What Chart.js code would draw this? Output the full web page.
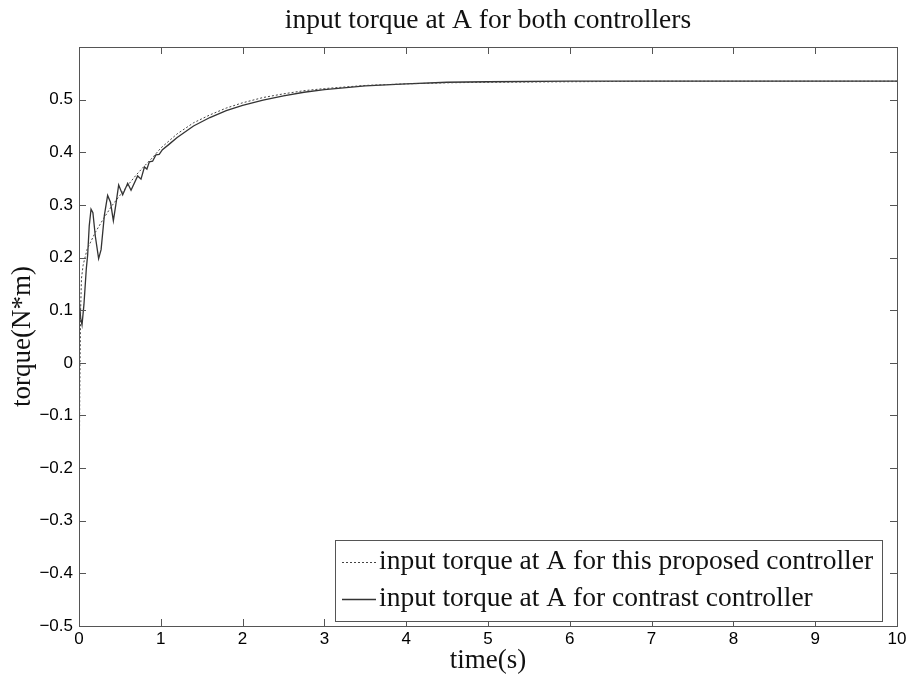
<!DOCTYPE html>
<html>
<head>
<meta charset="utf-8">
<title>input torque at A for both controllers</title>
<script src="https://cdn.jsdelivr.net/npm/chart.js@4.4.1/dist/chart.umd.min.js"></script>
<style>
  html, body { margin: 0; padding: 0; background: #fff; }
  #wrap { width: 909px; height: 679px; position: relative; }
</style>
</head>
<body>
<div id="wrap"><canvas id="torqueChart"></canvas></div>
<script>
// Datos
const X_TICKS = [0, 1, 2, 3, 4, 5, 6, 7, 8, 9, 10];
const Y_TICKS = [-0.5, -0.4, -0.3, -0.2, -0.1, 0, 0.1, 0.2, 0.3, 0.4, 0.5];

// controlador propuesto (linea punteada)
const proposedTime = [0, 0.01, 0.02, 0.03, 0.05, 0.07, 0.1, 0.2, 0.3, 0.4, 0.5, 0.6, 0.7, 0.8, 0.9, 1.0,
  1.2, 1.4, 1.6, 1.8, 2.0, 2.25, 2.5, 2.75, 3.0, 3.5, 4.0, 4.5, 5.0, 6.0, 7.0, 8.0, 9.0, 10.0];
const proposedTorque = [-0.28, -0.05, 0.1, 0.16, 0.185, 0.198, 0.216, 0.248, 0.274, 0.298, 0.318, 0.338, 0.357, 0.374, 0.39, 0.408,
  0.435, 0.456, 0.471, 0.484, 0.494, 0.504, 0.511, 0.517, 0.521, 0.527, 0.530, 0.532, 0.533, 0.534, 0.535, 0.535, 0.535, 0.535];

// controlador de contraste (linea continua)
const contrastTime = [0, 0.02, 0.037, 0.06, 0.09, 0.106, 0.125, 0.147, 0.17, 0.2, 0.24, 0.27, 0.31, 0.35, 0.385, 0.42,
  0.45, 0.485, 0.534, 0.595, 0.636, 0.717, 0.758, 0.8, 0.83, 0.86, 0.9, 0.94, 0.98, 1.02, 1.1, 1.2, 1.4, 1.6, 1.8, 2.0,
  2.25, 2.5, 2.75, 3.0, 3.5, 4.0, 4.5, 5.0, 6.0, 7.0, 8.0, 9.0, 10.0];
const contrastTorque = [0.125, 0.085, 0.072, 0.11, 0.18, 0.205, 0.26, 0.292, 0.285, 0.24, 0.198, 0.215, 0.28, 0.318, 0.305, 0.27,
  0.3, 0.338, 0.319, 0.341, 0.328, 0.355, 0.349, 0.372, 0.368, 0.382, 0.383, 0.395, 0.396, 0.405, 0.415, 0.428, 0.450, 0.466, 0.479, 0.489,
  0.499, 0.507, 0.514, 0.519, 0.526, 0.530, 0.533, 0.534, 0.535, 0.535, 0.535, 0.535, 0.535];

const seriesLabels = ['input torque at A for this proposed controller', 'input torque at A for contrast controller'];

function toPoints(xs, ys) {
  return xs.map(function(x, i) { return { x: x, y: ys[i] }; });
}

const SERIF = '"Liberation Serif", "Times New Roman", serif';
const SANS = '"Liberation Sans", Arial, sans-serif';

// caja y marcas hacia adentro (estilo matlab)
const boxPlugin = {
  id: 'boxPlugin',
  afterDatasetsDraw: function(chart) {
    const ctx = chart.ctx;
    const a = chart.chartArea;
    const xs = chart.scales.x;
    const ys = chart.scales.y;
    const tl = 7;
    ctx.save();
    ctx.strokeStyle = '#555';
    ctx.lineWidth = 1;
    ctx.beginPath();
    X_TICKS.forEach(function(v) {
      const px = Math.round(xs.getPixelForValue(v)) + 0.5;
      ctx.moveTo(px, a.bottom); ctx.lineTo(px, a.bottom - tl);
      ctx.moveTo(px, a.top); ctx.lineTo(px, a.top + tl);
    });
    Y_TICKS.forEach(function(v) {
      const py = Math.round(ys.getPixelForValue(v)) + 0.5;
      ctx.moveTo(a.left, py); ctx.lineTo(a.left + tl, py);
      ctx.moveTo(a.right, py); ctx.lineTo(a.right - tl, py);
    });
    ctx.stroke();
    ctx.strokeRect(Math.round(a.left) + 0.5, Math.round(a.top) + 0.5,
      Math.round(a.right - a.left), Math.round(a.bottom - a.top));
    ctx.restore();
  }
};

// leyenda dentro del area, abajo a la derecha
const legendBox = {
  id: 'legendBox',
  afterDraw: function(chart) {
    const ctx = chart.ctx;
    const a = chart.chartArea;
    const sets = chart.data.datasets;
    ctx.save();
    ctx.font = '27.5px ' + SERIF;
    let maxW = 0;
    sets.forEach(function(ds) { maxW = Math.max(maxW, ctx.measureText(ds.label).width); });
    const w = Math.round(7 + 34 + 3 + maxW + 9);
    const h = 81;
    const right = Math.round(a.right) - 15;
    const bottom = Math.round(a.bottom) - 5;
    const left = right - w;
    const top = bottom - h;
    ctx.fillStyle = '#fff';
    ctx.fillRect(left, top, w, h);
    ctx.strokeStyle = '#555';
    ctx.lineWidth = 1;
    ctx.strokeRect(left + 0.5, top + 0.5, w, h);
    const rows = [top + 22, top + 59];
    sets.forEach(function(ds, i) {
      ctx.beginPath();
      ctx.strokeStyle = ds.borderColor;
      ctx.lineWidth = ds.borderWidth;
      ctx.setLineDash(ds.borderDash || []);
      ctx.moveTo(left + 7, rows[i] + 0.5);
      ctx.lineTo(left + 41, rows[i] + 0.5);
      ctx.stroke();
      ctx.setLineDash([]);
      ctx.fillStyle = '#111';
      ctx.textBaseline = 'middle';
      ctx.textAlign = 'left';
      ctx.fillText(ds.label, left + 44, rows[i]);
    });
    ctx.restore();
  }
};

document.addEventListener('DOMContentLoaded', function() {
  const ctx = document.getElementById('torqueChart').getContext('2d');

  const torqueChart = new Chart(ctx, {
    type: 'line',
    data: {
      datasets: [
        {
          label: seriesLabels[0],
          data: toPoints(proposedTime, proposedTorque),
          borderColor: '#444',
          borderWidth: 1,
          borderDash: [2, 2],
          pointRadius: 0,
          tension: 0,
          fill: false
        },
        {
          label: seriesLabels[1],
          data: toPoints(contrastTime, contrastTorque),
          borderColor: '#333',
          borderWidth: 1.3,
          pointRadius: 0,
          tension: 0,
          fill: false
        }
      ]
    },
    options: {
      responsive: true,
      maintainAspectRatio: false,
      animation: false,
      layout: { padding: { top: 0, right: 12, bottom: 0, left: 0 } },
      plugins: {
        legend: { display: false },
        tooltip: { enabled: false },
        title: {
          display: true,
          fullSize: false,
          text: 'input torque at A for both controllers',
          color: '#111',
          font: { family: SERIF, size: 27.5, weight: 'normal' },
          padding: { top: 4, bottom: 10 }
        }
      },
      scales: {
        x: {
          type: 'linear',
          min: 0,
          max: 10,
          grid: { display: false, drawTicks: false },
          border: { display: false },
          ticks: {
            stepSize: 1,
            padding: 3,
            color: '#000',
            font: { family: SANS, size: 17 },
            maxRotation: 0
          },
          afterBuildTicks: function(scale) {
            scale.ticks = X_TICKS.map(function(v) { return { value: v }; });
          },
          title: {
            display: true,
            text: 'time(s)',
            color: '#111',
            font: { family: SERIF, size: 27, weight: 'normal' },
            padding: { top: 0, bottom: 2 }
          },
          afterFit: function(scale) {
            scale.height = 53;
            scale.paddingLeft = 0;
            scale.paddingRight = 0;
          }
        },
        y: {
          min: -0.5,
          max: 0.6,
          grid: { display: false, drawTicks: false },
          border: { display: false },
          ticks: {
            padding: 6,
            color: '#000',
            font: { family: SANS, size: 17 },
            callback: function(value) {
              if (Math.abs(value) < 1e-9) return '0';
              return value.toFixed(1).replace('-', '\u2212');
            }
          },
          afterBuildTicks: function(scale) {
            scale.ticks = Y_TICKS.map(function(v) { return { value: v }; });
          },
          title: {
            display: true,
            text: 'torque(N*m)',
            color: '#111',
            font: { family: SERIF, size: 27, weight: 'normal' },
            padding: { top: 7, bottom: 0 }
          },
          afterFit: function(scale) {
            scale.width = 79;
            scale.paddingTop = 0;
            scale.paddingBottom = 0;
          }
        }
      }
    },
    plugins: [boxPlugin, legendBox]
  });
});
</script>
</body>
</html>
